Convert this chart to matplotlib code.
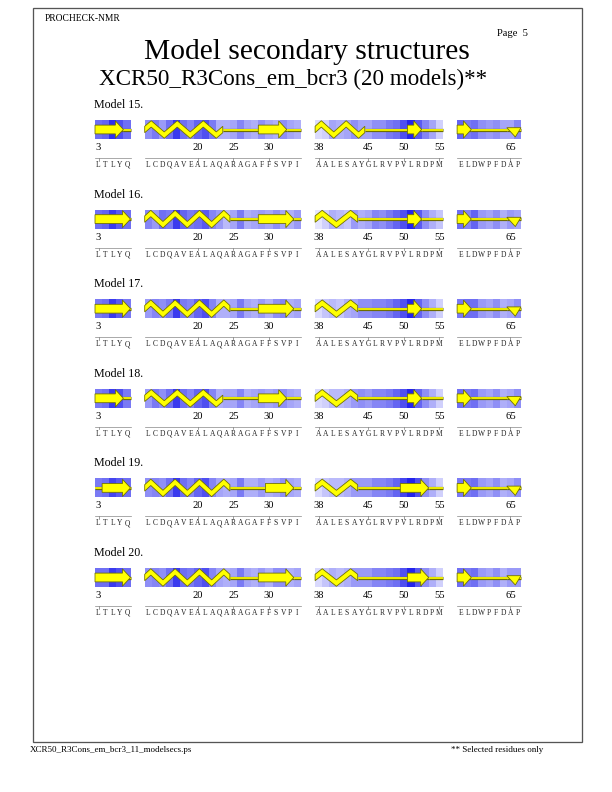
import matplotlib
matplotlib.use("Agg")
import matplotlib.pyplot as plt
from matplotlib.patches import Polygon, Rectangle

plt.rcParams['font.family'] = ['Liberation Serif', 'DejaVu Serif']

# ---------------- data ----------------
seg_starts = [3, 13, 38, 58]
seg_seqs = ["LTLYQ", "LCDQAVEALAQARAGAFFSVPI", "AALESAYGLRVPVLRDPM", "ELDWPFDAP"]
tick_residues = [3, 20, 25, 30, 38, 45, 50, 55, 65]

model_names = ["Model 15.", "Model 16.", "Model 17.", "Model 18.", "Model 19.", "Model 20."]

ss_m15 = ["EEEEC", "HHHHHHHHHHHCCCCCEEEECC", "HHHHHHHCCCCCCEECCC", "EECCCCCTT"]
ss_m16 = ["EEEEE", "HHHHHHHHHHHHCCCCEEEEEC", "HHHHHHCCCCCCCEECCC", "EECCCCCTT"]
ss_m17 = ["EEEEE", "HHHHHHHHHHHHCCCCEEEEEC", "HHHHHHCCCCCCCEECCC", "EECCCCCTT"]
ss_m18 = ["EEEEC", "HHHHHHHHHHHCCCCCEEEECC", "HHHHHHCCCCCCCEECCC", "EECCCCCTT"]
ss_m19 = ["CEEEE", "HHHHHHHHHHHHCCCCCEEEEC", "HHHHHHCCCCCCEEEECC", "EECCCCCTT"]
ss_m20 = ["EEEEE", "HHHHHHHHHHHHCCCCEEEEEC", "HHHHHHCCCCCCCEEECC", "EECCCCCTT"]
model_ss = [ss_m15, ss_m16, ss_m17, ss_m18, ss_m19, ss_m20]

# shading intensity per residue (0 = pale, 1 = deep blue)
shade_m15 = [0.60, 0.65, 0.90, 0.75, 0.60,
             0.45, 0.55, 0.40, 0.60, 0.85, 0.60, 0.50, 0.65, 0.75, 0.55, 0.30,
             0.30, 0.35, 0.50, 0.35, 0.30, 0.45, 0.35, 0.30, 0.45, 0.35, 0.30,
             0.10, 0.15, 0.35, 0.30, 0.35, 0.45, 0.35, 0.35, 0.45, 0.45, 0.55,
             0.60, 0.75, 0.95, 0.70, 0.50, 0.35, 0.15,
             0.65, 0.55, 0.60, 0.45, 0.40, 0.45, 0.35, 0.35, 0.50]
shade_m16 = [0.60, 0.65, 0.85, 0.70, 0.60,
             0.50, 0.40, 0.60, 0.55, 0.85, 0.65, 0.55, 0.60, 0.70, 0.50, 0.40,
             0.25, 0.35, 0.55, 0.30, 0.35, 0.40, 0.35, 0.45, 0.35, 0.30, 0.40,
             0.05, 0.15, 0.30, 0.25, 0.20, 0.40, 0.30, 0.35, 0.50, 0.45, 0.55,
             0.65, 0.75, 0.95, 0.70, 0.45, 0.30, 0.20,
             0.60, 0.50, 0.65, 0.40, 0.35, 0.45, 0.30, 0.40, 0.35]
shade_m17 = [0.55, 0.60, 0.85, 0.70, 0.55,
             0.40, 0.50, 0.45, 0.55, 0.85, 0.55, 0.50, 0.65, 0.75, 0.50, 0.30,
             0.30, 0.35, 0.55, 0.35, 0.30, 0.40, 0.30, 0.45, 0.50, 0.30, 0.35,
             0.10, 0.20, 0.25, 0.20, 0.30, 0.35, 0.45, 0.45, 0.50, 0.50, 0.55,
             0.65, 0.75, 0.95, 0.65, 0.45, 0.30, 0.15,
             0.55, 0.60, 0.60, 0.40, 0.35, 0.45, 0.30, 0.35, 0.45]
shade_m18 = [0.55, 0.60, 0.85, 0.75, 0.55,
             0.40, 0.55, 0.45, 0.60, 0.85, 0.60, 0.50, 0.65, 0.75, 0.50, 0.30,
             0.35, 0.35, 0.50, 0.30, 0.35, 0.40, 0.35, 0.40, 0.45, 0.35, 0.30,
             0.10, 0.15, 0.25, 0.25, 0.30, 0.40, 0.45, 0.40, 0.50, 0.50, 0.55,
             0.65, 0.75, 0.95, 0.65, 0.45, 0.30, 0.15,
             0.60, 0.55, 0.60, 0.40, 0.35, 0.45, 0.30, 0.35, 0.45]
shade_m19 = [0.55, 0.60, 0.80, 0.70, 0.60,
             0.45, 0.50, 0.45, 0.60, 0.85, 0.60, 0.50, 0.65, 0.75, 0.50, 0.35,
             0.30, 0.35, 0.55, 0.30, 0.30, 0.40, 0.30, 0.35, 0.45, 0.35, 0.30,
             0.10, 0.20, 0.25, 0.25, 0.30, 0.40, 0.40, 0.40, 0.50, 0.50, 0.55,
             0.65, 0.80, 0.95, 0.75, 0.45, 0.30, 0.15,
             0.55, 0.55, 0.60, 0.40, 0.35, 0.45, 0.30, 0.35, 0.45]
shade_m20 = [0.60, 0.60, 0.85, 0.75, 0.60,
             0.45, 0.50, 0.45, 0.60, 0.85, 0.60, 0.55, 0.65, 0.75, 0.50, 0.35,
             0.30, 0.35, 0.55, 0.35, 0.30, 0.40, 0.30, 0.45, 0.45, 0.30, 0.35,
             0.10, 0.20, 0.30, 0.25, 0.30, 0.40, 0.40, 0.40, 0.50, 0.50, 0.55,
             0.60, 0.75, 0.95, 0.70, 0.45, 0.30, 0.15,
             0.60, 0.55, 0.60, 0.40, 0.35, 0.45, 0.30, 0.40, 0.40]
model_shades = [shade_m15, shade_m16, shade_m17, shade_m18, shade_m19, shade_m20]

# ---------------- layout ----------------
fig = plt.figure(figsize=(8.5, 11), dpi=72)
ax = fig.add_axes([0, 0, 1, 1])
ax.set_xlim(0, 612)
ax.set_ylim(792, 0)
ax.axis('off')

X0, W = 95.0, 7.1
GAP = 2
BAND_H = 19.0
FIRST_TOP, ROW_STEP = 120.0, 89.6
LIGHT = (0.94, 0.94, 1.0)
DARK = (0.10, 0.10, 0.92)
YEL = '#ffff00'
OLV = '#6e6e00'

seg_slot0 = []
s = 0
for k, seq in enumerate(seg_seqs):
    seg_slot0.append(s)
    s += len(seq) + GAP


def xs(slot):
    return X0 + W * slot


def shade(v):
    return tuple(LIGHT[c] + v * (DARK[c] - LIGHT[c]) for c in range(3))


def runs(ss):
    out = []
    i = 0
    while i < len(ss):
        j = i
        while j + 1 < len(ss) and ss[j + 1] == ss[i]:
            j += 1
        out.append((ss[i], i, j))
        i = j + 1
    return out


def draw_coil(xa, xb, c):
    ax.plot([xa, xb], [c, c], color=OLV, lw=3.2, solid_capstyle='butt', zorder=2)
    ax.plot([xa, xb], [c, c], color=YEL, lw=1.7, solid_capstyle='butt', zorder=2.1)


def draw_helix(xa, xb, n, c):
    halves = max(1, int(round(2 * n / 3.6)))
    plen = (xb - xa) / (halves / 2.0)
    A, t = 5.6, 3.2
    px, py = [xa], [c]
    for k in range(halves):
        ph = 0.25 + 0.5 * k
        px.append(xa + plen * ph)
        py.append(c - A if k % 2 == 0 else c + A)
    px.append(xb)
    py.append(c)
    upper = [(x, y - t) for x, y in zip(px, py)]
    lower = [(x, y + t) for x, y in zip(px, py)][::-1]
    ax.add_patch(Polygon(upper + lower, closed=True, facecolor=YEL,
                         edgecolor=OLV, lw=0.8, zorder=3))


def draw_strand(xa, xb, c):
    hl = min(8.0, (xb - xa) * 0.55)
    bh, hh = 4.4, 8.6
    pts = [(xa, c - bh), (xb - hl, c - bh), (xb - hl, c - hh), (xb, c),
           (xb - hl, c + hh), (xb - hl, c + bh), (xa, c + bh)]
    ax.add_patch(Polygon(pts, closed=True, facecolor=YEL, edgecolor=OLV,
                         lw=0.8, zorder=3))


def draw_turn(xa, xb, c):
    pts = [(xa, c - 1.8), (xb, c - 1.8), (xa + 0.6 * (xb - xa), c + 7.5)]
    ax.add_patch(Polygon(pts, closed=True, facecolor=YEL, edgecolor=OLV,
                         lw=0.8, zorder=3))


for m, name in enumerate(model_names):
    top = FIRST_TOP + m * ROW_STEP
    c = top + BAND_H / 2.0
    ax.text(94, top - 12, name, fontsize=12, ha='left', va='baseline', color='black')
    shades = model_shades[m]
    idx = 0
    for k, seq in enumerate(seg_seqs):
        s0 = seg_slot0[k]
        ss = model_ss[m][k]
        for i in range(len(seq)):
            extra = 0.6 if i < len(seq) - 1 else 0.0
            ax.add_patch(Rectangle((xs(s0 + i), top), W + extra, BAND_H,
                                   facecolor=shade(shades[idx + i]),
                                   edgecolor='none', zorder=1 + 0.001 * i))
        for typ, a, b in runs(ss):
            xa, xb = xs(s0 + a), xs(s0 + b + 1)
            if typ != 'H':
                draw_coil(xa, xb, c)
        for typ, a, b in runs(ss):
            xa, xb = xs(s0 + a), xs(s0 + b + 1)
            if typ == 'H':
                draw_helix(xa, xb, b - a + 1, c)
            elif typ == 'E':
                draw_strand(xa, xb, c)
            elif typ == 'T':
                draw_turn(xa, xb, c)
        first = seg_starts[k]
        for r in tick_residues:
            if first <= r < first + len(seq):
                xc = xs(s0 + r - first) + W / 2
                ax.text(xc, top + 27.5, str(r), fontsize=10.5, ha='center',
                        va='center', color='black')
                ax.plot([xc, xc], [top + 38, top + 40.5], color='#777777',
                        lw=0.7, zorder=2)
        ax.plot([xs(s0), xs(s0 + len(seq))], [top + 38, top + 38],
                color='#888888', lw=0.7, zorder=2)
        for i, ch in enumerate(seq):
            ax.text(xs(s0 + i) + W / 2, top + 45, ch, fontsize=7.5,
                    ha='center', va='center', color='#222222')
        idx += len(seq)

ax.add_patch(Rectangle((33, 8), 549, 734, fill=False, edgecolor='#555555',
                       lw=1.3, zorder=5))
ax.text(45, 21, "PROCHECK-NMR", fontsize=9.5, ha='left', va='baseline')
ax.text(528, 36, "Page  5", fontsize=10.5, ha='right', va='baseline')
ax.text(307, 59, "Model secondary structures", fontsize=29.5, ha='center',
        va='baseline')
ax.text(293, 85, "XCR50_R3Cons_em_bcr3 (20 models)**", fontsize=23,
        ha='center', va='baseline')
ax.text(30, 752, "XCR50_R3Cons_em_bcr3_11_modelsecs.ps", fontsize=9,
        ha='left', va='baseline')
ax.text(543, 752, "** Selected residues only", fontsize=9, ha='right',
        va='baseline')

fig.savefig("out.png", dpi=72)
